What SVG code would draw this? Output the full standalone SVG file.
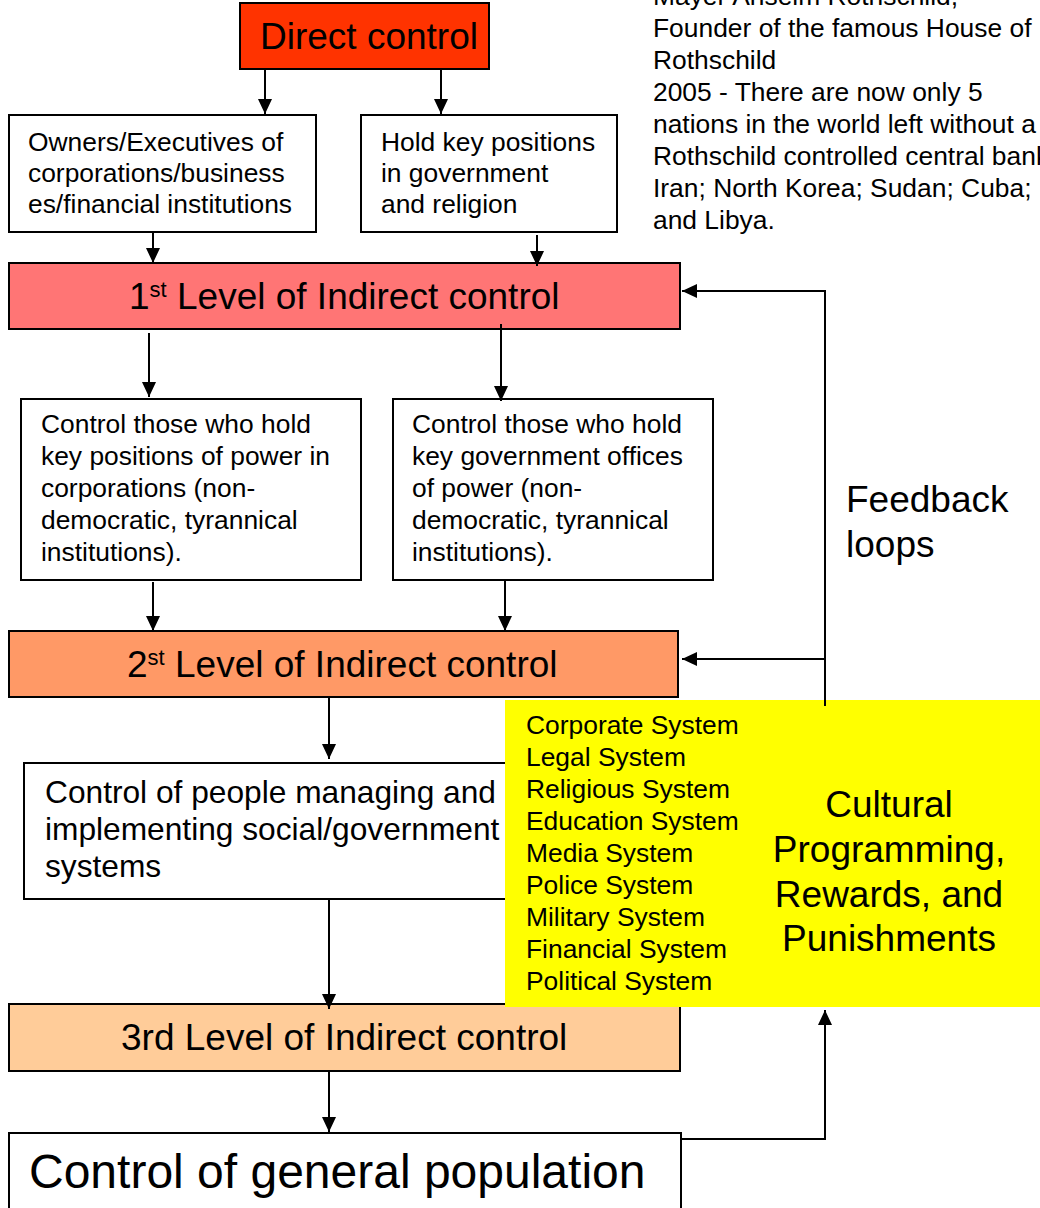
<svg xmlns="http://www.w3.org/2000/svg" width="1040" height="1208" viewBox="0 0 1040 1208">
<defs>
<marker id="ah" markerWidth="15" markerHeight="14" refX="15" refY="7" orient="auto" markerUnits="userSpaceOnUse">
<path d="M0,0 L15,7 L0,14 Z" fill="#000"/>
</marker>
<style>
text{font-family:"Liberation Sans",Arial,sans-serif;fill:#000}
.box{stroke:#000;stroke-width:2}
.s{font-size:26.4px}
.m{font-size:31.7px}
.l{font-size:37px}
.xl{font-size:48px}
.con line,.con polyline{stroke:#000;stroke-width:2;fill:none}
</style>
</defs>
<rect width="1040" height="1208" fill="#fff"/>

<g id="note">
<text class="s" x="653" y="5">Mayer Anselm Rothschild,</text>
<text class="s" x="653" y="37">Founder of the famous House of</text>
<text class="s" x="653" y="69">Rothschild</text>
<text class="s" x="653" y="101">2005 - There are now only 5</text>
<text class="s" x="653" y="133">nations in the world left without a</text>
<text class="s" x="653" y="165">Rothschild controlled central bank</text>
<text class="s" x="653" y="197">Iran; North Korea; Sudan; Cuba;</text>
<text class="s" x="653" y="229">and Libya.</text>
</g>

<g id="direct">
<rect class="box" x="240" y="3" width="249" height="66" fill="#FF3300"/>
<text class="l" x="260" y="49">Direct control</text>
</g>

<g id="owners">
<rect class="box" x="9" y="115" width="307" height="117" fill="#fff"/>
<text class="s" x="28" y="151">Owners/Executives of</text>
<text class="s" x="28" y="182">corporations/business</text>
<text class="s" x="28" y="213">es/financial institutions</text>
</g>

<g id="holdkey">
<rect class="box" x="361" y="115" width="256" height="117" fill="#fff"/>
<text class="s" x="381" y="151">Hold key positions</text>
<text class="s" x="381" y="182">in government</text>
<text class="s" x="381" y="213">and religion</text>
</g>

<g id="level1">
<rect class="box" x="9" y="263" width="671" height="66" fill="#FF7575"/>
<text class="l" x="129" y="309">1<tspan font-size="22" dy="-12">st</tspan><tspan dy="12"> Level of Indirect control</tspan></text>
</g>

<g id="ctrl-corp">
<rect class="box" x="21" y="399" width="340" height="181" fill="#fff"/>
<text class="s" x="41" y="433">Control those who hold</text>
<text class="s" x="41" y="465">key positions of power in</text>
<text class="s" x="41" y="497">corporations (non-</text>
<text class="s" x="41" y="529">democratic, tyrannical</text>
<text class="s" x="41" y="561">institutions).</text>
</g>

<g id="ctrl-gov">
<rect class="box" x="393" y="399" width="320" height="181" fill="#fff"/>
<text class="s" x="412" y="433">Control those who hold</text>
<text class="s" x="412" y="465">key government offices</text>
<text class="s" x="412" y="497">of power (non-</text>
<text class="s" x="412" y="529">democratic, tyrannical</text>
<text class="s" x="412" y="561">institutions).</text>
</g>

<g id="level2">
<rect class="box" x="9" y="631" width="669" height="66" fill="#FF9966"/>
<text class="l" x="127" y="677">2<tspan font-size="22" dy="-12">st</tspan><tspan dy="12"> Level of Indirect control</tspan></text>
</g>

<g id="people">
<rect class="box" x="24" y="763" width="656" height="136" fill="#fff"/>
<text class="m" x="45" y="803">Control of people managing and</text>
<text class="m" x="45" y="840">implementing social/government</text>
<text class="m" x="45" y="877">systems</text>
</g>

<g id="level3">
<rect class="box" x="9" y="1004" width="671" height="67" fill="#FFCC99"/>
<text class="l" x="121" y="1050">3rd Level of Indirect control</text>
</g>

<g id="population">
<rect class="box" x="9" y="1133" width="672" height="90" fill="#fff"/>
<text class="xl" x="29" y="1188">Control of general population</text>
</g>

<g id="feedback">
<text class="l" x="846" y="512">Feedback</text>
<text class="l" x="846" y="557">loops</text>
</g>

<g id="cultural">
<rect x="505" y="700" width="540" height="307" fill="#FFFF00"/>
<text class="s" x="526" y="734">Corporate System</text>
<text class="s" x="526" y="766">Legal System</text>
<text class="s" x="526" y="798">Religious System</text>
<text class="s" x="526" y="830">Education System</text>
<text class="s" x="526" y="862">Media System</text>
<text class="s" x="526" y="894">Police System</text>
<text class="s" x="526" y="926">Military System</text>
<text class="s" x="526" y="958">Financial System</text>
<text class="s" x="526" y="990">Political System</text>
<text class="l" x="889" y="817" text-anchor="middle">Cultural</text>
<text class="l" x="889" y="862" text-anchor="middle">Programming,</text>
<text class="l" x="889" y="907" text-anchor="middle">Rewards, and</text>
<text class="l" x="889" y="951" text-anchor="middle">Punishments</text>
</g>

<g id="connectors" class="con">
<line x1="265" y1="69" x2="265" y2="114" marker-end="url(#ah)"/>
<line x1="441" y1="69" x2="441" y2="114" marker-end="url(#ah)"/>
<line x1="153" y1="232" x2="153" y2="263" marker-end="url(#ah)"/>
<line x1="537" y1="235" x2="537" y2="266" marker-end="url(#ah)"/>
<line x1="149" y1="333" x2="149" y2="397" marker-end="url(#ah)"/>
<line x1="501" y1="324" x2="501" y2="401" marker-end="url(#ah)"/>
<line x1="153" y1="582" x2="153" y2="631" marker-end="url(#ah)"/>
<line x1="505" y1="580" x2="505" y2="631" marker-end="url(#ah)"/>
<line x1="329" y1="697" x2="329" y2="759" marker-end="url(#ah)"/>
<line x1="329" y1="899" x2="329" y2="1009" marker-end="url(#ah)"/>
<line x1="329" y1="1071" x2="329" y2="1132" marker-end="url(#ah)"/>
<polyline points="825,706 825,291 682,291" marker-end="url(#ah)"/>
<line x1="825" y1="659" x2="682" y2="659" marker-end="url(#ah)"/>
<polyline points="681,1139 825,1139 825,1010" marker-end="url(#ah)"/>
</g>
</svg>
